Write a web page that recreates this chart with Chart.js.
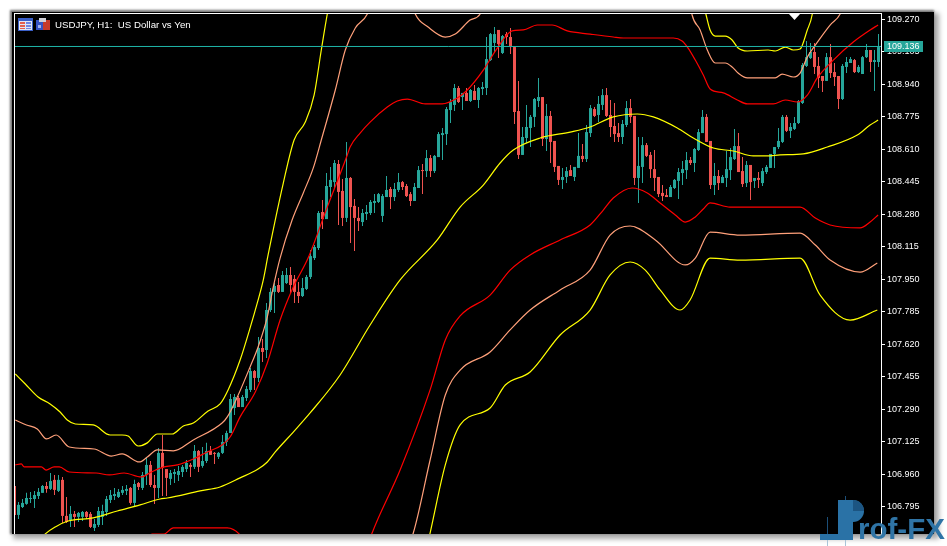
<!DOCTYPE html>
<html><head><meta charset="utf-8">
<script src="https://cdn.jsdelivr.net/npm/chart.js@4"></script>
<style>
html,body{margin:0;padding:0;background:#fff;width:947px;height:546px;overflow:hidden}
#frame{position:absolute;left:12px;top:12px;width:922px;height:522px;background:#000;box-shadow:-1px -1px 2px 1px #777,3px 3px 5px 2px #aaa}
canvas{position:absolute;left:0;top:0}
</style></head><body>
<div id="frame"></div>
<canvas id="c" width="947" height="546"></canvas>
<script>
const chartTitle = "USDJPY, H1:  US Dollar vs Yen";
const currentPrice = 109.136;
const bidLineLevel = 109.133;
const tickValues = [109.270,109.105,108.940,108.775,108.610,108.445,108.280,108.115,107.950,107.785,107.620,107.455,107.290,107.125,106.960,106.795];

const opens = [106.900,106.753,106.793,106.809,106.834,106.834,106.849,106.865,106.900,106.885,
106.931,106.875,106.931,106.748,106.727,106.758,106.743,106.743,106.768,106.758,
106.687,106.702,106.743,106.768,106.829,106.849,106.844,106.865,106.875,106.890,
106.814,106.915,106.890,106.956,107.007,106.905,106.890,107.068,106.986,106.936,
106.961,106.956,106.971,106.986,107.007,106.997,107.078,107.002,107.027,107.078,
107.068,107.048,107.068,107.124,107.169,107.296,107.347,107.301,107.347,107.388,
107.484,107.449,107.601,107.591,107.794,107.886,107.921,107.886,107.931,107.972,
107.952,107.886,107.865,107.901,107.962,108.058,108.109,108.292,108.256,108.419,
108.444,108.536,108.399,108.262,108.465,108.323,108.262,108.241,108.282,108.287,
108.338,108.343,108.272,108.368,108.409,108.368,108.404,108.444,108.424,108.383,
108.348,108.414,108.505,108.500,108.566,108.500,108.571,108.683,108.688,108.810,
108.836,108.922,108.876,108.897,108.856,108.907,108.861,108.917,108.922,109.064,
109.151,109.217,109.100,109.196,109.181,109.130,108.805,108.582,108.668,108.719,
108.775,108.856,108.876,108.663,108.780,108.653,108.526,108.455,108.470,108.505,
108.470,108.516,108.577,108.561,108.693,108.815,108.785,108.836,108.886,108.785,
108.729,108.693,108.673,108.734,108.820,108.780,108.465,108.521,108.632,108.582,
108.510,108.470,108.389,108.378,108.368,108.414,108.450,108.490,108.505,108.556,
108.541,108.607,108.693,108.775,108.653,108.429,108.475,108.439,108.465,108.505,
108.561,108.627,108.500,108.439,108.531,108.450,108.465,108.439,108.495,108.516,
108.587,108.622,108.648,108.775,108.704,108.714,108.744,108.846,109.034,109.074,
109.105,109.034,108.983,108.958,109.079,109.003,108.983,108.866,109.029,109.049,
109.064,109.003,108.993,109.079,109.115,109.054,109.054];

const closes = [106.753,106.804,106.814,106.839,106.839,106.854,106.870,106.900,106.885,106.925,
106.880,106.931,106.748,106.717,106.758,106.743,106.763,106.768,106.743,106.692,
106.707,106.773,106.773,106.834,106.854,106.859,106.870,106.880,106.885,106.814,
106.910,106.895,106.956,107.007,106.905,106.890,107.068,106.992,106.941,106.966,
106.971,106.976,106.997,107.017,106.997,107.078,106.997,107.027,107.078,107.058,
107.063,107.068,107.124,107.169,107.342,107.352,107.301,107.352,107.393,107.484,
107.449,107.601,107.581,107.794,107.886,107.916,107.886,107.972,107.972,107.921,
107.886,107.865,107.906,107.962,108.068,108.114,108.287,108.256,108.424,108.455,
108.541,108.394,108.262,108.465,108.317,108.262,108.246,108.287,108.292,108.343,
108.348,108.383,108.373,108.404,108.368,108.409,108.444,108.419,108.373,108.348,
108.419,108.505,108.500,108.566,108.500,108.577,108.688,108.693,108.815,108.851,
108.922,108.851,108.897,108.856,108.912,108.861,108.922,108.927,109.069,109.196,
109.196,109.145,109.186,109.181,109.130,108.800,108.582,108.673,108.724,108.775,
108.866,108.876,108.663,108.780,108.648,108.521,108.455,108.470,108.500,108.475,
108.521,108.577,108.561,108.698,108.820,108.780,108.841,108.886,108.780,108.724,
108.688,108.673,108.739,108.820,108.775,108.465,108.526,108.632,108.577,108.510,
108.465,108.383,108.373,108.368,108.419,108.455,108.495,108.510,108.556,108.541,
108.612,108.698,108.775,108.648,108.429,108.475,108.439,108.470,108.510,108.571,
108.627,108.495,108.434,108.531,108.444,108.465,108.455,108.500,108.521,108.587,
108.622,108.653,108.775,108.704,108.724,108.744,108.856,109.039,109.079,109.105,
109.029,108.973,108.958,109.079,108.998,108.978,108.866,109.034,109.054,109.069,
109.003,109.029,109.079,109.115,109.054,109.064,109.130];

const highs = [106.900,106.819,106.834,106.865,106.870,106.875,106.890,106.905,106.920,106.966,
106.956,106.956,106.946,106.844,106.798,106.773,106.768,106.773,106.773,106.768,
106.732,106.793,106.804,106.849,106.880,106.890,106.885,106.900,106.905,106.895,
106.931,106.920,106.971,107.042,107.027,106.956,107.093,107.159,106.986,106.981,
106.986,107.002,107.007,107.032,107.017,107.108,107.083,107.098,107.119,107.103,
107.073,107.073,107.159,107.180,107.367,107.367,107.357,107.362,107.408,107.500,
107.489,107.657,107.647,107.830,107.906,107.931,107.957,107.992,108.008,108.013,
107.972,107.936,107.957,107.972,108.099,108.124,108.297,108.353,108.490,108.521,
108.556,108.556,108.460,108.648,108.470,108.358,108.317,108.307,108.328,108.353,
108.383,108.389,108.383,108.475,108.419,108.439,108.490,108.450,108.434,108.394,
108.439,108.526,108.536,108.607,108.582,108.582,108.698,108.719,108.825,108.866,
108.942,108.932,108.897,108.922,108.917,108.937,108.927,108.952,109.181,109.201,
109.232,109.217,109.191,109.206,109.227,109.130,108.958,108.724,108.836,108.785,
108.871,108.973,108.876,108.841,108.805,108.653,108.526,108.516,108.521,108.531,
108.521,108.693,108.637,108.734,108.836,108.825,108.881,108.917,108.922,108.861,
108.846,108.744,108.759,108.856,108.866,108.780,108.673,108.673,108.643,108.597,
108.607,108.470,108.429,108.409,108.429,108.460,108.516,108.551,108.597,108.571,
108.617,108.714,108.810,108.790,108.653,108.541,108.505,108.480,108.602,108.617,
108.714,108.693,108.571,108.551,108.531,108.465,108.495,108.516,108.531,108.587,
108.622,108.719,108.785,108.785,108.744,108.775,108.861,109.049,109.161,109.151,
109.151,109.079,108.983,109.100,109.145,109.049,108.983,109.044,109.079,109.079,
109.069,109.039,109.084,109.145,109.115,109.115,109.196];

const lows = [106.748,106.732,106.788,106.804,106.814,106.788,106.834,106.865,106.865,106.880,
106.854,106.870,106.712,106.712,106.692,106.692,106.717,106.722,106.732,106.687,
106.671,106.692,106.702,106.748,106.814,106.829,106.839,106.854,106.854,106.804,
106.798,106.880,106.880,106.905,106.895,106.809,106.839,106.849,106.849,106.905,
106.915,106.925,106.946,106.971,106.946,106.986,106.971,106.992,107.017,107.058,
107.012,107.037,107.063,107.103,107.169,107.261,107.301,107.301,107.332,107.378,
107.388,107.428,107.530,107.550,107.784,107.779,107.881,107.886,107.926,107.881,
107.830,107.830,107.860,107.896,107.952,108.048,108.099,108.206,108.256,108.368,
108.414,108.226,108.221,108.241,108.135,108.094,108.196,108.221,108.251,108.277,
108.287,108.338,108.241,108.368,108.307,108.348,108.394,108.404,108.368,108.323,
108.348,108.414,108.383,108.470,108.470,108.490,108.571,108.556,108.632,108.744,
108.805,108.846,108.810,108.856,108.851,108.861,108.820,108.886,108.886,109.059,
109.100,109.074,109.095,109.145,109.095,108.739,108.561,108.582,108.643,108.622,
108.724,108.825,108.627,108.602,108.541,108.495,108.429,108.409,108.439,108.475,
108.450,108.516,108.546,108.546,108.673,108.775,108.749,108.810,108.775,108.673,
108.648,108.648,108.637,108.724,108.744,108.429,108.338,108.439,108.571,108.465,
108.399,108.368,108.348,108.368,108.368,108.409,108.358,108.429,108.460,108.531,
108.495,108.602,108.693,108.648,108.409,108.378,108.404,108.439,108.419,108.455,
108.556,108.495,108.419,108.419,108.353,108.414,108.414,108.424,108.485,108.516,
108.516,108.612,108.643,108.698,108.668,108.709,108.739,108.841,109.029,109.069,
108.993,108.922,108.902,108.958,108.973,108.932,108.815,108.861,108.998,109.049,
108.998,108.998,108.993,109.074,109.003,108.907,109.029];

const upper3Idx = [0.2,2.7,5.9,8.9,11.4,13.2,15.2,19.7,23.9,26.9,28.4,30.9,33.2,35.7,39.4,42.2,44.7,48.4,51.4,53.4,56.4,58.9,60.7,62.2,63.4,67.2,69.9,72.7,74.9,76.7,78.2,79.4,79.5,171.4,172.9,173.9,175.2,177.7,179.4,180.9,183.2,188.4,190.2,192.7,194.7,196.4,198.2,199.4,200.2];
const upper3Val = [107.469,107.418,107.352,107.317,107.276,107.235,107.215,107.210,107.159,107.159,107.154,107.103,107.119,107.164,107.164,107.205,107.220,107.281,107.317,107.388,107.540,107.703,107.830,107.947,108.074,108.439,108.658,108.749,108.886,109.115,109.298,109.420,null,109.420,109.293,109.217,109.186,109.186,109.166,109.125,109.110,109.115,109.110,109.130,109.115,109.120,109.217,109.293,109.420];

const upper2Idx = [0.2,3,5.7,8,10.4,13.7,19.9,24.2,26.9,31.2,33.2,35.7,39.7,44.7,51.9,53.2,55.7,58.9,60.9,63.2,64.7,66.4,69.4,72.2,74.7,76.7,80.2,82.7,85.2,88.2,90.2,90.3,98.4,100.2,103.4,107.7,110.2,113.9,116.4,118.4,118.5,168.4,169.4,171.4,173.2,175.2,177.7,179.4,180.9,183.2,190.2,191.9,194.7,196.4,198.2,200.2,203.9,206.4,208.4];
const upper2Val = [107.235,107.210,107.190,107.139,107.159,107.098,107.088,107.052,107.063,107.022,107.047,107.083,107.078,107.134,107.220,107.251,107.352,107.505,107.606,107.759,107.911,108.058,108.251,108.389,108.516,108.658,108.912,109.115,109.227,109.298,109.420,null,109.420,109.298,109.232,109.181,109.196,109.267,109.298,109.420,null,109.420,109.293,109.217,109.115,109.049,109.049,109.029,108.998,108.973,108.973,108.993,108.978,108.998,109.079,109.140,109.242,109.298,109.420];

const upper1Idx = [0.2,1.7,2.4,6.7,7.9,9.9,11.2,13.7,20.4,23.7,27.4,31.7,34.2,37.4,40.7,44.7,48.2,51.9,53.9,56.4,60.2,63.2,66.4,69.7,73.4,78.2,83.2,83.9,86.4,88.9,93.2,95.7,98.2,102.7,106.9,110.7,113.2,117.2,120.7,124.4,127.2,130.7,134.4,138.2,143.9,149.7,152.2,161.4,164.7,166.9,168.4,170.2,172.2,173.9,177.2,180.7,183.2,189.7,192.7,195.7,198.2,200.7,204.7,209.7,213.9,215.9];
const upper1Val = [107.007,107.012,106.997,106.997,106.981,106.997,106.997,106.971,106.966,106.956,106.966,106.946,106.971,106.997,107.007,107.037,107.073,107.108,107.149,107.251,107.378,107.525,107.743,107.911,108.058,108.317,108.582,108.622,108.693,108.749,108.825,108.856,108.866,108.841,108.841,108.871,108.912,109.013,109.125,109.212,109.217,109.242,109.242,109.212,109.196,109.181,109.176,109.176,109.176,109.161,109.125,109.064,108.988,108.917,108.897,108.861,108.841,108.841,108.861,108.851,108.886,108.973,109.064,109.156,109.217,109.242];

const middleIdx = [5.4,7.4,10.2,13.4,19.7,25.7,31.4,36.4,38.2,46.4,51.4,56.4,60.9,63.2,65.2,69.7,73.9,81.4,88.9,96.4,105.7,111.4,117.2,121.4,124.7,131.4,138.9,143.9,149.7,155.7,159.7,165.7,169.7,174.7,179.7,184.7,188.2,191.4,197.2,203.2,210.7,213.9,215.9];
const middleVal = [106.600,106.651,106.692,106.722,106.738,106.773,106.804,106.834,106.839,106.875,106.895,106.941,106.986,107.022,107.073,107.174,107.271,107.464,107.718,107.947,108.150,108.317,108.429,108.541,108.607,108.668,108.698,108.724,108.775,108.790,108.775,108.719,108.668,108.617,108.602,108.577,108.577,108.582,108.587,108.622,108.683,108.734,108.759];

const lower1Idx = [32.7,34.4,37.4,39.7,44.7,49.7,53.2,56.4,57.9,58,88.4,89.4,96.4,103.9,107.7,111.4,118.9,123.9,128.9,136.4,143.9,147.2,149.7,154.4,158.2,161.4,165.2,167.7,170.2,172.2,173.9,178.9,184.7,191.4,196.4,200.2,203.9,211.4,213.9,215.9];
const lower1Val = [106.626,106.656,106.656,106.687,106.687,106.687,106.687,106.651,106.600,null,106.600,106.661,106.981,107.388,107.642,107.764,107.870,107.997,108.074,108.150,108.226,108.302,108.363,108.414,108.389,108.338,108.277,108.241,108.267,108.307,108.338,108.317,108.317,108.317,108.317,108.261,108.226,108.211,108.241,108.277];

const lower2Idx = [98.4,99.7,103.9,107.7,111.4,118.9,123.9,128.9,136.4,143.9,148.9,153.9,160.2,167.7,170.2,173.9,181.4,196.4,200.2,203.9,211.4,215.7];
const lower2Val = [106.600,106.661,107.032,107.362,107.489,107.581,107.693,107.794,107.896,107.997,108.175,108.221,108.150,108.023,108.058,108.190,108.175,108.185,108.124,108.048,107.987,108.033];

const lower3Idx = [103.2,103.9,107.7,111.4,118.9,122.7,128.9,136.4,143.9,148.9,153.9,157.7,161.4,166.4,168.9,173.9,181.4,196.4,201.4,208.9,215.7];
const lower3Val = [106.600,106.661,107.007,107.210,107.296,107.413,107.479,107.667,107.794,107.972,108.038,107.997,107.896,107.794,107.845,108.058,108.048,108.058,107.870,107.743,107.794];

const upColor = "#26a69a", downColor = "#ef5350", priceColor = "#1fb5a8";
const YELLOW = "#ffff00", SALMON = "#ffa07a", RED = "#ff0000";

const candleColors = closes.map((c,i)=> c >= opens[i] ? upColor : downColor);
const pts = (idx,val)=> val.map((v,i)=>({x:idx[i],y:v}));
const bandLine = (label,idx,val,color)=>({type:"line",label,data:pts(idx,val),borderColor:color,borderWidth:1.2,pointRadius:0,cubicInterpolationMode:"monotone",spanGaps:false,order:1});

const framePlugin = {
  id:"frame",
  afterDraw(chart){
    const g = chart.ctx, a = chart.chartArea, y = chart.scales.y;
    g.save();
    g.fillStyle = "#fff";
    g.fillRect(a.left-1,a.top-1,a.right-a.left+2,1);
    g.fillRect(a.left-1,a.top-1,1,a.bottom-a.top+1);

    // window menu icons
    g.fillStyle="#dfe6f5"; g.fillRect(18,18,15,13);
    g.strokeStyle="#3a5fc8"; g.strokeRect(18.5,18.5,14,12);
    g.fillStyle="#3a5fc8"; g.fillRect(19,19,13,2);
    g.fillStyle="#e2604c"; g.fillRect(20,22,5,2); g.fillRect(20,25,5,2); g.fillRect(20,28,5,1);
    g.fillStyle="#6f86e0"; g.fillRect(26,22,5,2); g.fillRect(26,25,5,2); g.fillRect(26,28,5,1);
    g.fillStyle="#3552c4"; g.fillRect(36,20,7,10);
    g.fillStyle="#c63a2c"; g.fillRect(43,20,7,10);
    g.fillStyle="#d0d0d8"; g.fillRect(39,18,7,4);
    g.fillStyle="#9fb0f0"; g.fillRect(38,25,3,3);

    // chart title
    g.fillStyle="#ffffff"; g.font="9.7px 'Liberation Sans'"; g.textBaseline="alphabetic"; g.textAlign="left";
    g.fillText(chartTitle,55,28);

    // white marker triangle at the top
    g.fillStyle="#fff"; g.beginPath(); g.moveTo(789,14); g.lineTo(800,14); g.lineTo(794.5,20); g.closePath(); g.fill();

    // current price tag
    const py = Math.round(y.getPixelForValue(currentPrice));
    g.fillStyle="#26a69a"; g.fillRect(884,py-5,39,11);
    g.fillStyle="#ffffff"; g.font="9px 'Liberation Sans'"; g.textBaseline="middle";
    g.fillText(currentPrice.toFixed(3),887,py+0.5);

    // Prof-FX watermark
    g.fillStyle="#a9c4d8"; g.fillRect(827,540,1,6); g.fillRect(845,540,1,6);
    g.fillStyle="#1c4f78"; g.fillRect(827,517,1,17); g.fillRect(845,496,1,5);
    g.fillStyle="#2a72a6";
    g.fillRect(820,534,33,6); g.fillRect(838,500,15,40);
    g.beginPath(); g.arc(853,511,11,-Math.PI/2,Math.PI/2); g.fill();
    g.fillStyle="#1c5582";
    g.beginPath(); g.moveTo(853,511); g.arc(853,511,11,-Math.PI/2,0); g.closePath(); g.fill();
    g.fillStyle="#2f74a6"; g.font="bold 29.5px 'Liberation Sans'"; g.textBaseline="alphabetic";
    g.fillText("rof-FX",858,539);
    g.restore();
  }
};

new Chart(document.getElementById("c"),{
  data:{datasets:[
    {type:"bar",label:"wicks",data:lows.map((l,i)=>({x:i,y:[l,highs[i]]})),backgroundColor:candleColors,barThickness:1,inflateAmount:0,grouped:false,order:3},
    {type:"bar",label:"candles",data:opens.map((o,i)=>({x:i,y:[o,closes[i]]})),backgroundColor:candleColors,barThickness:3,inflateAmount:0,minBarLength:1,grouped:false,order:2},
    bandLine("middle",middleIdx,middleVal,YELLOW),
    bandLine("upper 1",upper1Idx,upper1Val,RED),
    bandLine("upper 2",upper2Idx,upper2Val,SALMON),
    bandLine("upper 3",upper3Idx,upper3Val,YELLOW),
    bandLine("lower 1",lower1Idx,lower1Val,RED),
    bandLine("lower 2",lower2Idx,lower2Val,SALMON),
    bandLine("lower 3",lower3Idx,lower3Val,YELLOW),
    {type:"line",label:"bid",data:[{x:0,y:bidLineLevel},{x:217,y:bidLineLevel}],borderColor:priceColor,borderWidth:1,pointRadius:0,order:0}
  ]},
  options:{
    responsive:false,animation:false,devicePixelRatio:1,
    layout:{padding:{left:15,top:14,right:14,bottom:12}},
    plugins:{legend:{display:false},tooltip:{enabled:false},title:{display:false}},
    scales:{
      x:{type:"linear",display:false,min:0.125,max:216.625,offset:false},
      y:{type:"linear",position:"right",min:106.656,max:109.298,
        afterBuildTicks(s){s.ticks=tickValues.map(v=>({value:v}));},
        afterFit(s){s.width=52;},
        border:{color:"#ffffff",width:1},
        grid:{drawOnChartArea:false,color:"#ffffff",tickLength:4,tickWidth:1},
        ticks:{color:"#ffffff",autoSkip:false,padding:2,maxRotation:0,font:{family:"'Liberation Sans'",size:9},callback:v=>Number(v).toFixed(3)}
      }
    }
  },
  plugins:[framePlugin]
});
</script>
</body></html>
